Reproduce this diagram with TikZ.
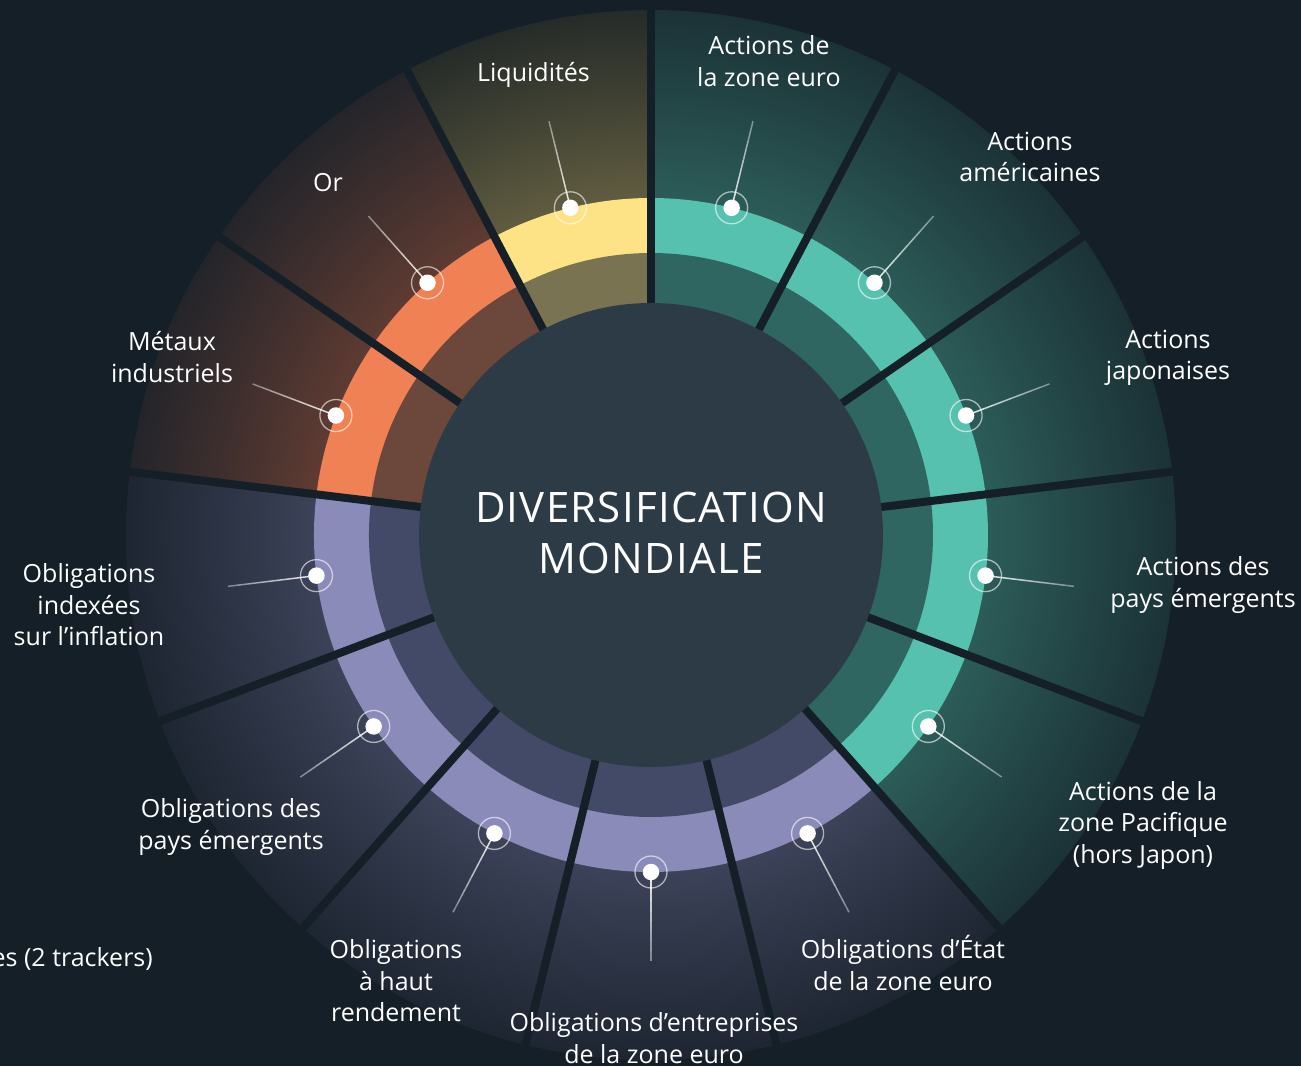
\documentclass[tikz,border=0pt]{standalone}
\usepackage{fontspec}
\setmainfont{Open Sans}
\newfontfamily\titlefont[LetterSpace=3]{Open Sans}
\usetikzlibrary{calc}

\definecolor{bgdark}{RGB}{21,31,40}
\definecolor{hubfill}{RGB}{44,59,70}
\definecolor{ringY}{RGB}{253,227,133}
\definecolor{ringT}{RGB}{86,193,175}
\definecolor{ringO}{RGB}{240,129,85}
\definecolor{ringL}{RGB}{138,139,185}
\definecolor{bandY}{RGB}{122,115,82}
\definecolor{bandT}{RGB}{47,102,97}
\definecolor{bandO}{RGB}{108,71,60}
\definecolor{bandL}{RGB}{67,74,103}
\definecolor{wedgeYa}{RGB}{96,92,64}
\definecolor{wedgeYb}{RGB}{36,42,40}
\definecolor{wedgeTa}{RGB}{44,92,88}
\definecolor{wedgeTb}{RGB}{27,49,53}
\definecolor{wedgeOa}{RGB}{94,59,50}
\definecolor{wedgeOb}{RGB}{34,36,42}
\definecolor{wedgeLa}{RGB}{60,66,88}
\definecolor{wedgeLb}{RGB}{29,37,49}
\colorlet{wedgeYm}{wedgeYa!50!wedgeYb}
\colorlet{wedgeTm}{wedgeTa!50!wedgeTb}
\colorlet{wedgeOm}{wedgeOa!50!wedgeOb}
\colorlet{wedgeLm}{wedgeLa!50!wedgeLb}

% glow shadings at their natural size (1bp = 1px of the picture)
\pgfdeclareradialshading{glowY}{\pgfpoint{0bp}{0bp}}{color(0bp)=(wedgeYa); color(337bp)=(wedgeYa); color(430bp)=(wedgeYm); color(530bp)=(wedgeYb)}
\pgfdeclareradialshading{glowT}{\pgfpoint{0bp}{0bp}}{color(0bp)=(wedgeTa); color(337bp)=(wedgeTa); color(430bp)=(wedgeTm); color(530bp)=(wedgeTb)}
\pgfdeclareradialshading{glowO}{\pgfpoint{0bp}{0bp}}{color(0bp)=(wedgeOa); color(337bp)=(wedgeOa); color(430bp)=(wedgeOm); color(530bp)=(wedgeOb)}
\pgfdeclareradialshading{glowL}{\pgfpoint{0bp}{0bp}}{color(0bp)=(wedgeLa); color(337bp)=(wedgeLa); color(430bp)=(wedgeLm); color(530bp)=(wedgeLb)}

\def\wedgefill[#1](#2:#3:#4){\fill[#1] (0,0) -- (#2:#4) arc[start angle=#2, end angle=#3, radius=#4] -- cycle;}
\def\glowwedge[#1](#2:#3){\begin{scope}\clip (0,0) -- (#2:525) arc[start angle=#2, end angle=#3, radius=525] -- cycle; \pgftext{\pgfuseshading{#1}}\end{scope}}

\tikzset{
  assetlabel/.style={text=white, align=center, inner sep=0, font=\fontsize{25bp}{31.5bp}\selectfont},
  assetdot/.style={circle, fill=white, inner sep=0, minimum size=16.5bp},
  halo/.style={draw=white, draw opacity=0.6, line width=1.3bp},
}

\begin{document}
\begin{tikzpicture}[x=1bp, y=1bp]
	%%%%% START %%%%%
	
	\useasboundingbox (-651,-531) rectangle (650,535);
	\fill[bgdark] (-651,-531) rectangle (650,535);
	
	% outer wedges
	\glowwedge[glowT](-48.4615:90)
	\glowwedge[glowL](-186.923:-48.4615)
	\glowwedge[glowO](117.692:173.077)
	\glowwedge[glowY](90:117.692)
	
	% coloured ring
	\wedgefill[ringT](-48.4615:90:337)
	\wedgefill[ringL](-186.923:-48.4615:337)
	\wedgefill[ringO](117.692:173.077:337)
	\wedgefill[ringY](90:117.692:337)
	
	\wedgefill[bandT](-48.4615:90:282)
	\wedgefill[bandL](-186.923:-48.4615:282)
	\wedgefill[bandO](117.692:173.077:282)
	\wedgefill[bandY](90:117.692:282)
	
	% separators
	\foreach \k in {0,...,12}
		\draw[line width=8bp, bgdark] ({90-360/13*\k}:200) -- ({90-360/13*\k}:526);
	
	\fill[hubfill] (0,0) circle (232);
	\node[text=white, align=center, inner sep=0, font=\titlefont\fontsize{42bp}{51.3bp}\selectfont] (title) at (0,1.7) {DIVERSIFICATION\\MONDIALE};
	
	% markers and leaders
	\foreach \k in {1,...,13}{
		\pgfmathsetmacro\a{90-360/13*(\k-0.5)}
		\coordinate (e\k) at (\a:436);
		\node[assetdot] (m\k) at (\a:337) {};
		\draw[halo] (m\k.center) circle (16);
		\foreach \s [evaluate=\s as \t using \s+0.1, evaluate=\s as \o using 0.9-0.6*\s] in {0,0.1,...,0.9}
			\draw[white, line width=1.5bp, opacity=\o] ($(m\k.center)!\s!(e\k)$) -- ($(m\k.center)!\t!(e\k)$);
	}
	
	\node[assetlabel] (l1) at (118,474) {Actions de\\la zone euro};
	\node[assetlabel] (l2) at (379,378) {Actions\\américaines};
	\node[assetlabel] (l3) at (517,177) {Actions\\japonaises};
	\node[assetlabel] (l4) at (552,-50) {Actions des\\pays émergents};
	\node[assetlabel] (l5) at (492,-290) {Actions de la\\zone Pacifique\\(hors Japon)};
	\node[assetlabel] (l6) at (252,-428) {Obligations d’État\\de la zone euro};
	\node[assetlabel] (l7) at (3,-503) {Obligations d’entreprises\\de la zone euro};
	\node[assetlabel] (l8) at (-255,-446) {Obligations\\à haut\\rendement};
	\node[assetlabel] (l9) at (-420,-292) {Obligations des\\pays émergents};
	\node[assetlabel] (l10) at (-562,-70) {Obligations\\indexées\\sur l’inflation};
	\node[assetlabel] (l11) at (-479,178) {Métaux\\industriels};
	\node[assetlabel] (l12) at (-323,352) {Or};
	\node[assetlabel] (l13) at (-117.5,460.5) {Liquidités};
	\node[assetlabel, anchor=base east] (l14) at (-498,-431) {es (2 trackers)};
	
	%%%%% END %%%%%
\end{tikzpicture}
\end{document}
